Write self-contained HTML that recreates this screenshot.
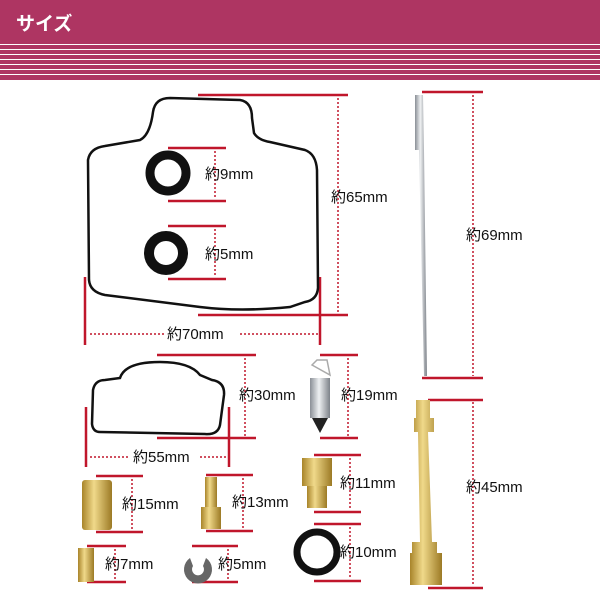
<!DOCTYPE html>
<html><head><meta charset="utf-8"><style>
body{margin:0;width:600px;height:600px;background:#fff;overflow:hidden;font-family:"Liberation Sans","Noto Sans CJK JP",sans-serif}
</style></head><body>
<svg width="600" height="600" viewBox="0 0 600 600" xmlns="http://www.w3.org/2000/svg" font-family="Liberation Sans, Noto Sans CJK JP, sans-serif">
<defs>
<linearGradient id="br" x1="0" x2="1"><stop offset="0" stop-color="#a8842a"/><stop offset=".4" stop-color="#f0d98a"/><stop offset="1" stop-color="#9c7a25"/></linearGradient>
<linearGradient id="si" x1="0" x2="1"><stop offset="0" stop-color="#8a8f96"/><stop offset=".45" stop-color="#eef0f2"/><stop offset="1" stop-color="#7d8289"/></linearGradient>
</defs>
<rect x="0" y="0" width="600" height="80" fill="#ae3562"/>
<g fill="#fff"><rect y="44" width="600" height="1"/><rect y="49" width="600" height="1"/><rect y="54" width="600" height="1"/><rect y="59" width="600" height="1"/><rect y="64" width="600" height="1"/><rect y="69" width="600" height="1"/><rect y="74" width="600" height="1"/></g>
<text x="16" y="30" fill="#fff" font-size="19" font-weight="bold">サイズ</text>

<g stroke="#c0162b" stroke-width="2.5" fill="none">
<path d="M198 95H348M198 315H348M85 277V345M320 277V345"/>
<path d="M168 148H226M168 201H226M168 226H226M168 279H226"/>
<path d="M422 92H483M422 378H483M428 400H483M428 588H483"/>
<path d="M157 355H256M157 438H256M86 407V467M229 407V467"/>
<path d="M320 355H358M320 438H358"/>
<path d="M96 476H143M96 532H143M206 475H253M206 531H253"/>
<path d="M314 455H361M314 512H361M314 524H361M314 581H361"/>
<path d="M87 546H126M87 582H126M192 546H238M192 582H238"/>
</g>
<g stroke="#c0162b" stroke-width="1.5" stroke-dasharray="2 2" fill="none">
<path d="M338 98V312M215 151V199M215 229V277M473 95V376M473 402V586"/>
<path d="M90 334H165M240 334H318M245 358V436M90 457H130M200 457H228M348 358V436"/>
<path d="M132 479V530M243 478V529M350 458V510M350 527V579M115 549V580M228 549V580"/>
</g>
<g font-size="15" fill="#111">
<text x="331" y="202">約65mm</text>
<text x="205" y="179">約9mm</text>
<text x="205" y="259">約5mm</text>
<text x="167" y="339">約70mm</text>
<text x="466" y="240">約69mm</text>
<text x="239" y="400">約30mm</text>
<text x="341" y="400">約19mm</text>
<text x="133" y="462">約55mm</text>
<text x="122" y="509">約15mm</text>
<text x="232" y="507">約13mm</text>
<text x="340" y="488">約11mm</text>
<text x="466" y="492">約45mm</text>
<text x="105" y="569">約7mm</text>
<text x="218" y="569">約5mm</text>
<text x="340" y="557">約10mm</text>
</g>

<path d="M153 112Q155 98 170 98L240 100Q252 102 252 118L254 133Q258 140 270 142L305 150Q316 154 317 170L318 288Q317 300 305 302L290 307Q240 312 200 307L105 295Q90 292 89 280L88 160Q90 148 105 146L140 140Q150 135 153 112Z" fill="none" stroke="#111" stroke-width="2.5"/>
<circle cx="168" cy="173" r="18" fill="none" stroke="#111" stroke-width="9"/>
<circle cx="166" cy="253" r="17" fill="none" stroke="#111" stroke-width="10"/>
<path d="M93 390Q95 380 105 380L120 378Q125 362 160 362Q190 362 200 375L212 380Q225 382 224 395L220 425Q218 435 205 434L100 432Q93 432 92 424Z" fill="none" stroke="#111" stroke-width="2.5"/>

<path d="M415 95H423L424 150L427 376H424L419 150L415 150Z" fill="url(#si)"/>
<path d="M416 400H430V418H434V432H428L432 542H437V553H442V585H410V553H412V542H420L418 432H414V418H416Z" fill="url(#br)"/>

<path d="M312 365L317 360H327L330 375Z" fill="none" stroke="#aaa" stroke-width="1.5"/>
<rect x="310" y="378" width="20" height="40" fill="url(#si)"/>
<path d="M312 418H328L320 433Z" fill="#222"/>
<rect x="82" y="480" width="30" height="50" rx="3" fill="url(#br)"/>
<rect x="205" y="477" width="12" height="30" fill="url(#br)"/>
<rect x="201" y="507" width="20" height="22" fill="url(#br)"/>
<rect x="302" y="458" width="30" height="28" fill="url(#br)"/>
<rect x="307" y="486" width="20" height="22" fill="url(#br)"/>
<circle cx="317" cy="552" r="20" fill="none" stroke="#111" stroke-width="7"/>
<rect x="78" y="548" width="16" height="34" fill="url(#br)"/>
<path d="M190 558A14 14 0 1 0 206 558L203 566A6 6 0 1 1 193 566Z" fill="#666"/>
</svg>
</body></html>
